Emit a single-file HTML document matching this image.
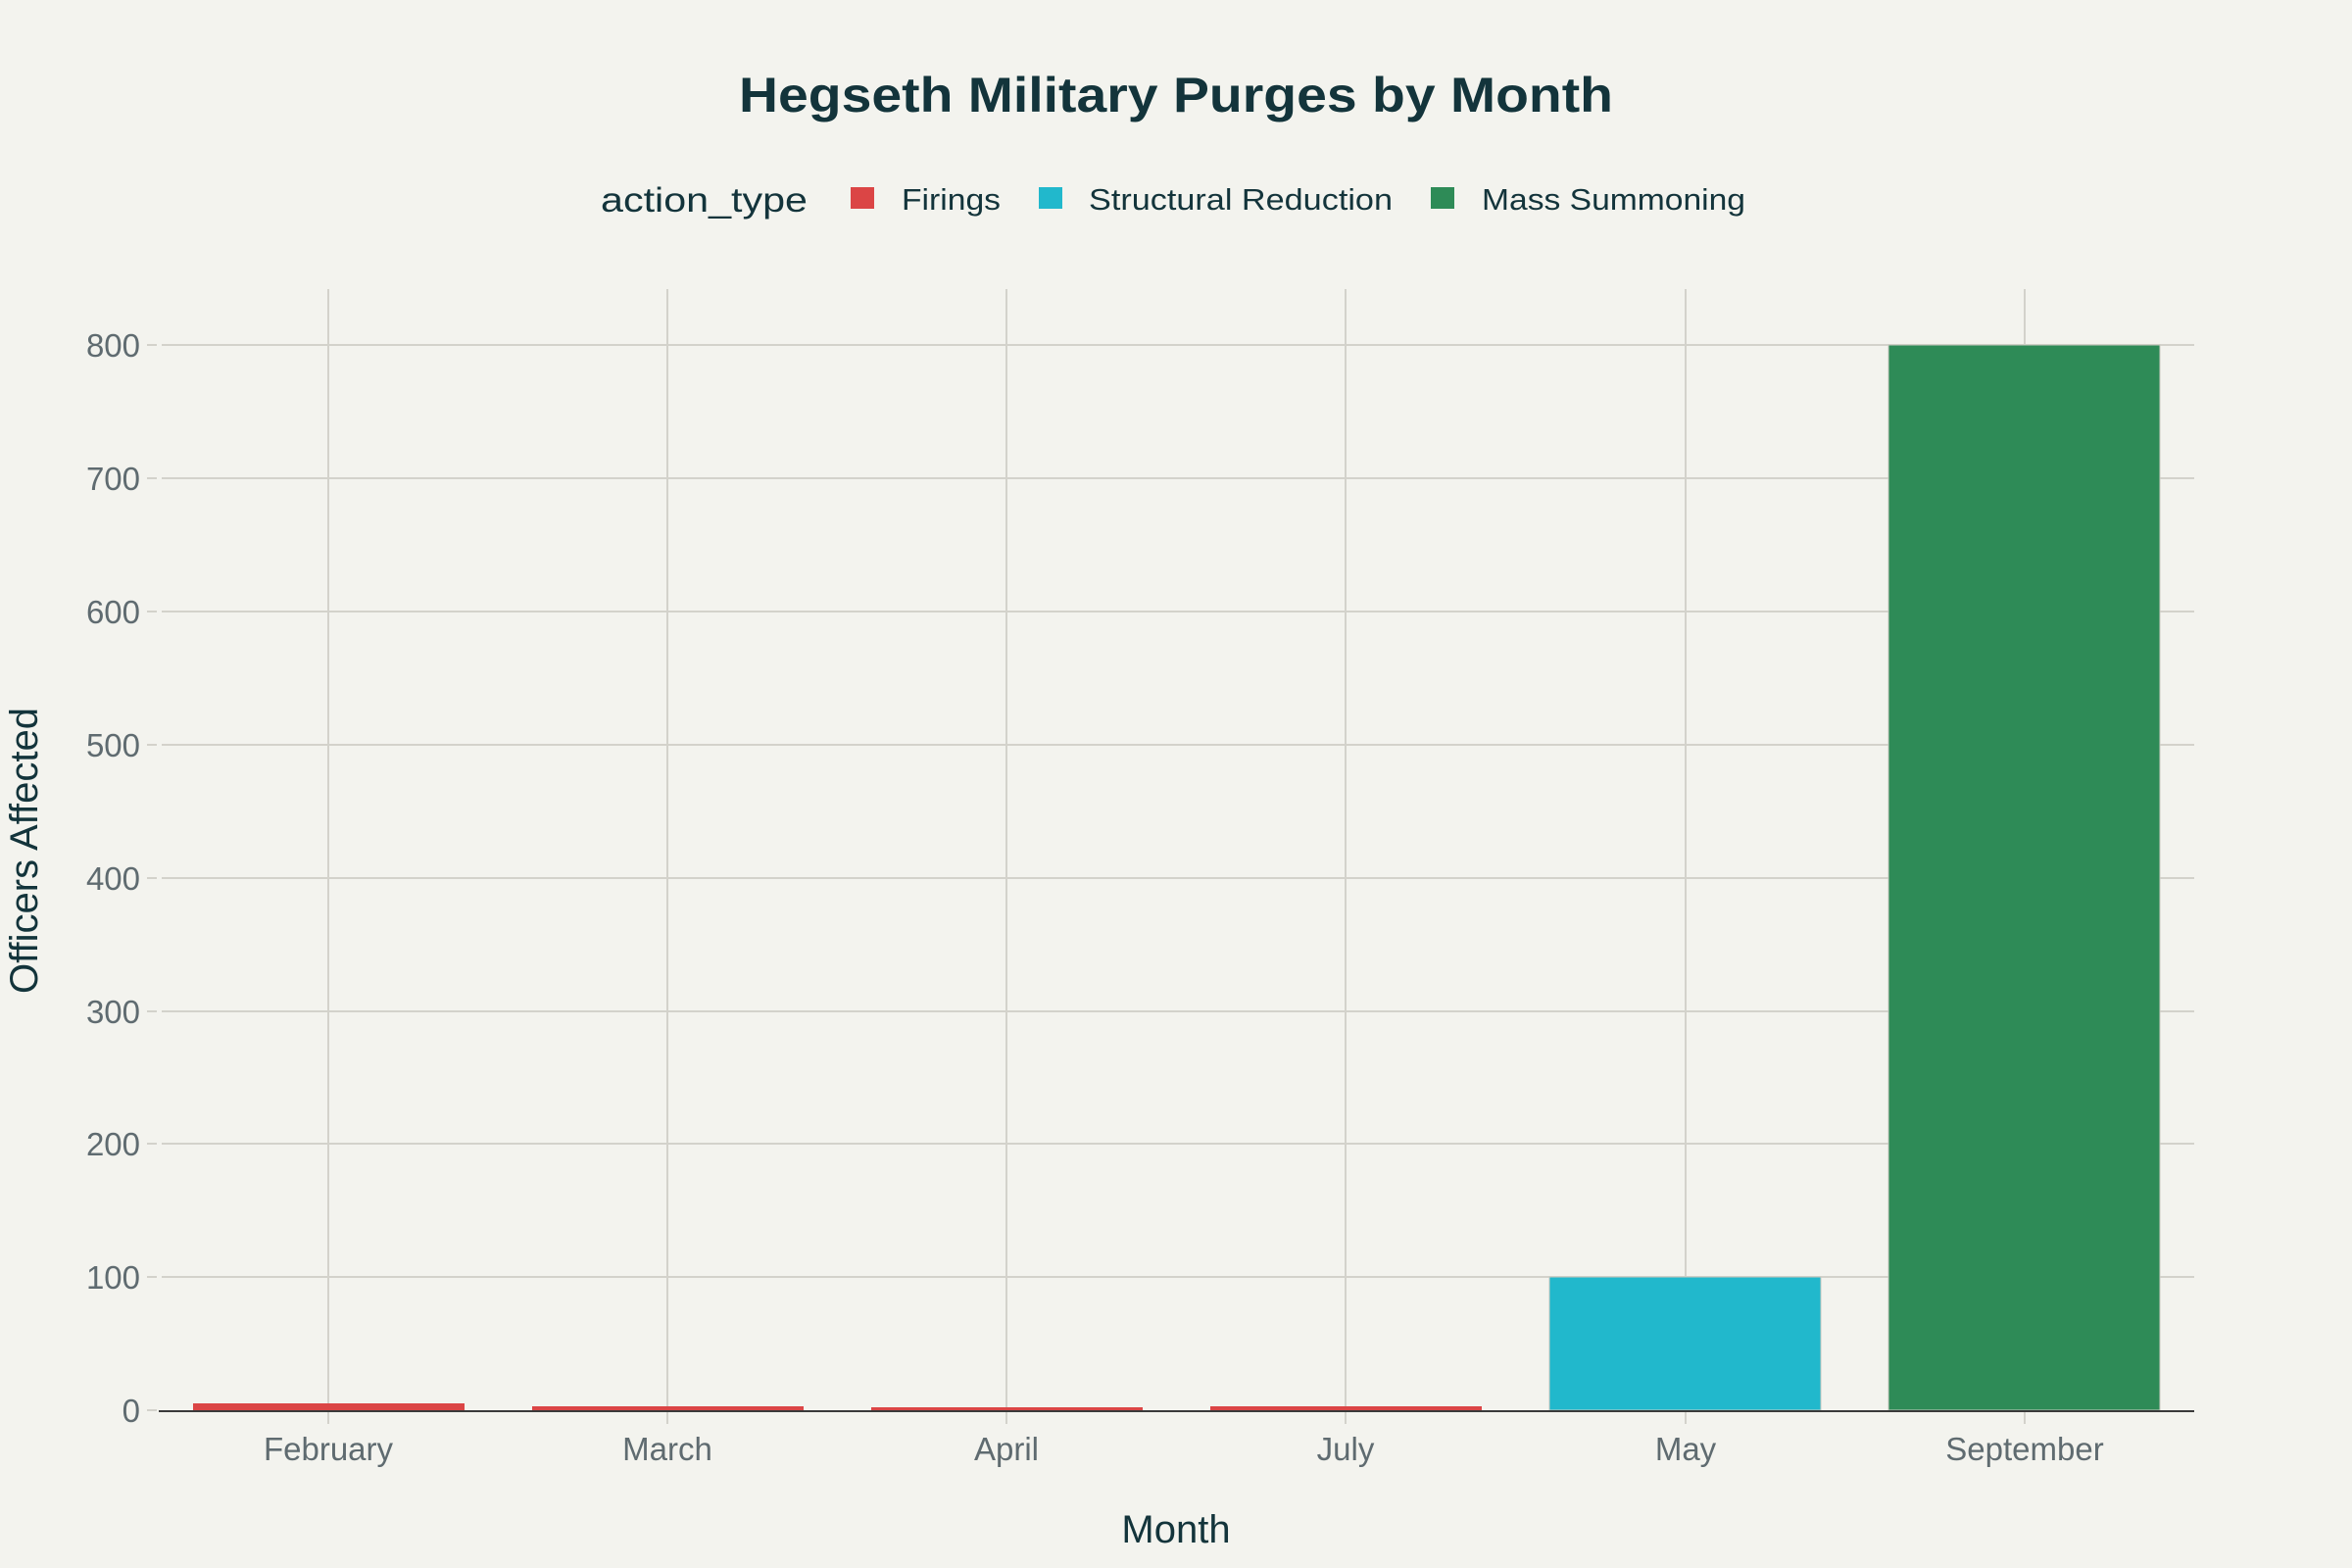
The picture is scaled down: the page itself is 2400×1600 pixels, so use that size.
<!DOCTYPE html>
<html><head><meta charset="utf-8"><style>
html,body{margin:0;padding:0;background:#f3f3ee;}
svg{display:block;font-family:"Liberation Sans",sans-serif;}
</style></head><body>
<svg width="2400" height="1600" viewBox="0 0 2400 1600" xmlns="http://www.w3.org/2000/svg">
<rect width="2400" height="1600" fill="#f3f3ee"/>
<text x="1200" y="114" text-anchor="middle" font-size="50" font-weight="bold" fill="#13343b" textLength="892" lengthAdjust="spacingAndGlyphs">Hegseth Military Purges by Month</text>
<text x="613" y="216" font-size="35" fill="#13343b" textLength="211" lengthAdjust="spacingAndGlyphs">action_type</text>
<rect x="868" y="191" width="24" height="22" fill="#db4545"/>
<text x="920" y="214" font-size="31" fill="#13343b" textLength="101" lengthAdjust="spacingAndGlyphs">Firings</text>
<rect x="1060" y="191" width="24" height="22" fill="#21b8cc"/>
<text x="1111" y="214" font-size="31" fill="#13343b" textLength="310" lengthAdjust="spacingAndGlyphs">Structural Reduction</text>
<rect x="1460" y="191" width="24" height="22" fill="#2e8b57"/>
<text x="1512" y="214" font-size="31" fill="#13343b" textLength="269" lengthAdjust="spacingAndGlyphs">Mass Summoning</text>
<g stroke="#d3d2cb" stroke-width="2">
<line x1="165" y1="1303" x2="2239" y2="1303"/>
<line x1="165" y1="1167" x2="2239" y2="1167"/>
<line x1="165" y1="1032" x2="2239" y2="1032"/>
<line x1="165" y1="896" x2="2239" y2="896"/>
<line x1="165" y1="760" x2="2239" y2="760"/>
<line x1="165" y1="624" x2="2239" y2="624"/>
<line x1="165" y1="488" x2="2239" y2="488"/>
<line x1="165" y1="352" x2="2239" y2="352"/>
<line x1="335" y1="295" x2="335" y2="1439"/>
<line x1="681" y1="295" x2="681" y2="1439"/>
<line x1="1027" y1="295" x2="1027" y2="1439"/>
<line x1="1373" y1="295" x2="1373" y2="1439"/>
<line x1="1720" y1="295" x2="1720" y2="1439"/>
<line x1="2066" y1="295" x2="2066" y2="1439"/>
<line x1="150" y1="1439" x2="160" y2="1439"/><line x1="150" y1="1303" x2="160" y2="1303"/><line x1="150" y1="1167" x2="160" y2="1167"/><line x1="150" y1="1032" x2="160" y2="1032"/><line x1="150" y1="896" x2="160" y2="896"/><line x1="150" y1="760" x2="160" y2="760"/><line x1="150" y1="624" x2="160" y2="624"/><line x1="150" y1="488" x2="160" y2="488"/><line x1="150" y1="352" x2="160" y2="352"/>
<line x1="335" y1="1439" x2="335" y2="1453"/><line x1="681" y1="1439" x2="681" y2="1453"/><line x1="1027" y1="1439" x2="1027" y2="1453"/><line x1="1373" y1="1439" x2="1373" y2="1453"/><line x1="1720" y1="1439" x2="1720" y2="1453"/><line x1="2066" y1="1439" x2="2066" y2="1453"/>
</g>
<rect x="197" y="1432" width="277" height="7" fill="#db4545"/>
<rect x="543" y="1435" width="277" height="4" fill="#db4545"/>
<rect x="889" y="1436" width="277" height="3" fill="#db4545"/>
<rect x="1235" y="1435" width="277" height="4" fill="#db4545"/>
<rect x="1581" y="1303" width="277" height="136" fill="#21b8cc" stroke="#c9c9c0" stroke-width="1"/>
<rect x="1927" y="352" width="277" height="1087" fill="#2e8b57" stroke="#c9c9c0" stroke-width="1"/>
<line x1="162" y1="1440" x2="2239" y2="1440" stroke="#3a3a3a" stroke-width="2"/>
<g font-size="33" fill="#5f6b70" text-anchor="end">
<text x="143" y="1451">0</text><text x="143" y="1315">100</text><text x="143" y="1179">200</text><text x="143" y="1044">300</text><text x="143" y="908">400</text><text x="143" y="772">500</text><text x="143" y="636">600</text><text x="143" y="500">700</text><text x="143" y="364">800</text>
</g>
<g font-size="33" fill="#5f6b70" text-anchor="middle">
<text x="335" y="1490">February</text><text x="681" y="1490">March</text><text x="1027" y="1490">April</text><text x="1373" y="1490">July</text><text x="1720" y="1490">May</text><text x="2066" y="1490">September</text>
</g>
<text x="1200" y="1574" text-anchor="middle" font-size="40" fill="#13343b">Month</text>
<text transform="translate(38,868) rotate(-90)" text-anchor="middle" font-size="40" fill="#13343b">Officers Affected</text>
</svg>
</body></html>
